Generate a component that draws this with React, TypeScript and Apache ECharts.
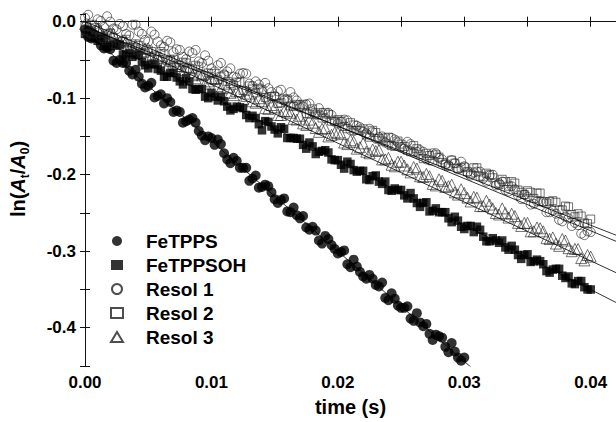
import React, { useEffect, useRef } from "react";
import * as echarts from "echarts";

const timesS = [0,0.0005,0.001,0.0015,0.002,0.0025,0.003,0.0035,0.004,0.0045,0.005,0.0055,0.006,0.0065,0.007,0.0075,0.008,0.0085,0.009,0.0095,0.01,0.0105,0.011,0.0115,0.012,0.0125,0.013,0.0135,0.014,0.0145,0.015,0.0155,0.016,0.0165,0.017,0.0175,0.018,0.0185,0.019,0.0195,0.02,0.0205,0.021,0.0215,0.022,0.0225,0.023,0.0235,0.024,0.0245,0.025,0.0255,0.026,0.0265,0.027,0.0275,0.028,0.0285,0.029,0.0295,0.03,0.0305,0.031,0.0315,0.032,0.0325,0.033,0.0335,0.034,0.0345,0.035,0.0355,0.036,0.0365,0.037,0.0375,0.038,0.0385,0.039,0.0395,0.04];
const timesMidS = [0.00025,0.00075,0.00125,0.00175,0.00225,0.00275,0.00325,0.00375,0.00425,0.00475,0.00525,0.00575,0.00625,0.00675,0.00725,0.00775,0.00825,0.00875,0.00925,0.00975,0.01025,0.01075,0.01125,0.01175,0.01225,0.01275,0.01325,0.01375,0.01425,0.01475,0.01525,0.01575,0.01625,0.01675,0.01725,0.01775,0.01825,0.01875,0.01925,0.01975,0.02025,0.02075,0.02125,0.02175,0.02225,0.02275,0.02325,0.02375,0.02425,0.02475,0.02525,0.02575,0.02625,0.02675,0.02725,0.02775,0.02825,0.02875,0.02925,0.02975,0.03025,0.03075,0.03125,0.03175,0.03225,0.03275,0.03325,0.03375,0.03425,0.03475,0.03525,0.03575,0.03625,0.03675,0.03725,0.03775,0.03825,0.03875,0.03925,0.03975];

const feTPPS = [-0.010,-0.022,-0.022,-0.035,-0.036,-0.054,-0.054,-0.064,-0.063,-0.081,-0.084,-0.099,-0.095,-0.100,-0.118,-0.118,-0.130,-0.126,-0.143,-0.155,-0.152,-0.154,-0.172,-0.185,-0.182,-0.191,-0.208,-0.201,-0.216,-0.215,-0.232,-0.233,-0.248,-0.243,-0.257,-0.269,-0.268,-0.286,-0.280,-0.292,-0.303,-0.299,-0.321,-0.320,-0.333,-0.331,-0.344,-0.341,-0.364,-0.362,-0.374,-0.372,-0.391,-0.393,-0.395,-0.416,-0.411,-0.425,-0.420,-0.439,-0.439];
const feTPPSMid = [-0.020,-0.017,-0.031,-0.034,-0.051,-0.050,-0.054,-0.069,-0.072,-0.086,-0.080,-0.097,-0.107,-0.105,-0.116,-0.132,-0.128,-0.132,-0.149,-0.150,-0.161,-0.160,-0.180,-0.178,-0.191,-0.191,-0.205,-0.217,-0.213,-0.223,-0.237,-0.231,-0.249,-0.253,-0.254,-0.272,-0.273,-0.290,-0.284,-0.297,-0.301,-0.317,-0.311,-0.327,-0.336,-0.336,-0.346,-0.361,-0.355,-0.371,-0.374,-0.388,-0.381,-0.398,-0.408,-0.409,-0.413,-0.432,-0.431,-0.443];

const feTPPSOH = [-0.016,-0.015,-0.025,-0.021,-0.031,-0.031,-0.043,-0.041,-0.043,-0.053,-0.061,-0.056,-0.064,-0.072,-0.067,-0.078,-0.074,-0.088,-0.088,-0.098,-0.093,-0.103,-0.104,-0.116,-0.111,-0.113,-0.126,-0.126,-0.142,-0.131,-0.141,-0.138,-0.152,-0.152,-0.153,-0.166,-0.163,-0.170,-0.168,-0.180,-0.181,-0.192,-0.186,-0.196,-0.195,-0.207,-0.201,-0.212,-0.220,-0.218,-0.220,-0.231,-0.231,-0.242,-0.236,-0.247,-0.249,-0.249,-0.262,-0.260,-0.271,-0.267,-0.268,-0.281,-0.287,-0.286,-0.286,-0.298,-0.298,-0.310,-0.304,-0.313,-0.313,-0.326,-0.324,-0.323,-0.335,-0.342,-0.339,-0.347,-0.350];
const feTPPSOHMid = [-0.011,-0.021,-0.023,-0.033,-0.029,-0.030,-0.043,-0.046,-0.044,-0.057,-0.055,-0.062,-0.072,-0.067,-0.073,-0.082,-0.078,-0.089,-0.088,-0.100,-0.098,-0.098,-0.111,-0.114,-0.112,-0.122,-0.123,-0.134,-0.130,-0.137,-0.146,-0.140,-0.152,-0.153,-0.161,-0.158,-0.173,-0.169,-0.171,-0.181,-0.187,-0.183,-0.194,-0.195,-0.206,-0.202,-0.209,-0.209,-0.221,-0.220,-0.227,-0.224,-0.237,-0.237,-0.248,-0.244,-0.249,-0.257,-0.255,-0.268,-0.267,-0.275,-0.272,-0.287,-0.283,-0.289,-0.295,-0.293,-0.305,-0.305,-0.314,-0.311,-0.317,-0.328,-0.323,-0.332,-0.333,-0.343,-0.339,-0.350];

const resol1 = [0.005,-0.004,0.003,-0.007,0.000,-0.010,-0.006,-0.018,-0.004,-0.016,-0.026,-0.017,-0.031,-0.025,-0.040,-0.037,-0.049,-0.041,-0.052,-0.044,-0.061,-0.057,-0.069,-0.061,-0.073,-0.067,-0.081,-0.078,-0.091,-0.087,-0.097,-0.089,-0.103,-0.099,-0.112,-0.108,-0.117,-0.113,-0.126,-0.122,-0.133,-0.128,-0.142,-0.136,-0.144,-0.140,-0.153,-0.150,-0.160,-0.154,-0.164,-0.157,-0.171,-0.168,-0.180,-0.172,-0.178,-0.187,-0.181,-0.193,-0.189,-0.201,-0.196,-0.205,-0.201,-0.214,-0.209,-0.222,-0.219,-0.232,-0.229,-0.238,-0.235,-0.249,-0.247,-0.259,-0.255,-0.267,-0.266,-0.279,-0.275];
const resol1Mid = [0.009,-0.004,0.001,0.007,-0.009,-0.003,-0.016,-0.004,-0.013,-0.024,-0.013,-0.026,-0.033,-0.027,-0.036,-0.046,-0.039,-0.037,-0.054,-0.051,-0.065,-0.054,-0.065,-0.072,-0.068,-0.068,-0.084,-0.082,-0.080,-0.092,-0.091,-0.103,-0.092,-0.103,-0.111,-0.107,-0.121,-0.119,-0.119,-0.131,-0.131,-0.129,-0.143,-0.138,-0.146,-0.144,-0.151,-0.158,-0.152,-0.158,-0.166,-0.160,-0.170,-0.170,-0.181,-0.172,-0.180,-0.188,-0.185,-0.183,-0.197,-0.197,-0.196,-0.209,-0.200,-0.211,-0.220,-0.215,-0.227,-0.226,-0.239,-0.235,-0.236,-0.249,-0.251,-0.261,-0.257,-0.263,-0.277,-0.274];

const resol2 = [-0.006,-0.015,-0.011,-0.019,-0.015,-0.030,-0.026,-0.033,-0.029,-0.041,-0.037,-0.045,-0.039,-0.051,-0.049,-0.060,-0.054,-0.062,-0.059,-0.071,-0.068,-0.076,-0.070,-0.081,-0.079,-0.090,-0.084,-0.093,-0.089,-0.101,-0.098,-0.106,-0.101,-0.111,-0.109,-0.120,-0.114,-0.122,-0.119,-0.130,-0.128,-0.137,-0.132,-0.142,-0.140,-0.151,-0.145,-0.156,-0.151,-0.163,-0.160,-0.168,-0.162,-0.174,-0.172,-0.182,-0.177,-0.186,-0.181,-0.192,-0.190,-0.199,-0.191,-0.203,-0.200,-0.211,-0.206,-0.215,-0.211,-0.223,-0.221,-0.231,-0.224,-0.237,-0.234,-0.246,-0.241,-0.252,-0.251,-0.263,-0.258];
const resol2Mid = [-0.012,-0.008,-0.020,-0.016,-0.021,-0.031,-0.023,-0.034,-0.031,-0.041,-0.039,-0.050,-0.042,-0.050,-0.057,-0.053,-0.061,-0.057,-0.070,-0.067,-0.077,-0.072,-0.078,-0.083,-0.079,-0.091,-0.088,-0.087,-0.099,-0.098,-0.107,-0.101,-0.110,-0.108,-0.108,-0.121,-0.119,-0.126,-0.121,-0.130,-0.130,-0.140,-0.135,-0.142,-0.148,-0.142,-0.153,-0.152,-0.162,-0.156,-0.163,-0.170,-0.166,-0.179,-0.175,-0.174,-0.184,-0.189,-0.185,-0.191,-0.196,-0.191,-0.202,-0.198,-0.204,-0.213,-0.209,-0.209,-0.220,-0.226,-0.223,-0.224,-0.235,-0.235,-0.236,-0.246,-0.242,-0.255,-0.254,-0.264];

const resol3 = [-0.003,-0.012,-0.009,-0.020,-0.015,-0.028,-0.025,-0.036,-0.031,-0.040,-0.035,-0.049,-0.047,-0.058,-0.052,-0.063,-0.059,-0.070,-0.068,-0.081,-0.074,-0.084,-0.081,-0.093,-0.091,-0.101,-0.094,-0.106,-0.104,-0.114,-0.112,-0.122,-0.117,-0.127,-0.123,-0.135,-0.132,-0.144,-0.139,-0.148,-0.145,-0.158,-0.155,-0.166,-0.159,-0.172,-0.169,-0.180,-0.178,-0.189,-0.183,-0.193,-0.190,-0.202,-0.199,-0.212,-0.206,-0.216,-0.213,-0.226,-0.224,-0.235,-0.230,-0.241,-0.239,-0.250,-0.244,-0.256,-0.254,-0.267,-0.263,-0.274,-0.270,-0.283,-0.282,-0.293,-0.286,-0.300,-0.297,-0.312,-0.307];
const resol3Mid = [-0.004,-0.014,-0.013,-0.023,-0.016,-0.026,-0.026,-0.036,-0.035,-0.035,-0.046,-0.045,-0.057,-0.051,-0.058,-0.064,-0.061,-0.074,-0.070,-0.078,-0.074,-0.087,-0.086,-0.096,-0.091,-0.097,-0.104,-0.100,-0.113,-0.109,-0.122,-0.117,-0.119,-0.128,-0.133,-0.128,-0.139,-0.140,-0.150,-0.145,-0.147,-0.160,-0.157,-0.164,-0.170,-0.167,-0.168,-0.180,-0.187,-0.183,-0.188,-0.197,-0.192,-0.203,-0.202,-0.214,-0.208,-0.215,-0.223,-0.219,-0.230,-0.229,-0.241,-0.234,-0.244,-0.252,-0.250,-0.251,-0.263,-0.263,-0.274,-0.269,-0.274,-0.284,-0.290,-0.284,-0.296,-0.297,-0.309,-0.305];

// linear fit endpoints [t, ln(At/A0)]
const fitFeTPPS = [[0, -0.012], [0.031, -0.4584]];
const fitFeTPPSOH = [[0, -0.013], [0.042, -0.367]];
const fitResol1 = [[0, 0.0], [0.042, -0.287]];
const fitResol2 = [[0, -0.007], [0.042, -0.279]];
const fitResol3 = [[0, -0.005], [0.042, -0.328]];

const seriesNames = ["FeTPPS", "FeTPPSOH", "Resol 1", "Resol 2", "Resol 3"];
const xTickLabels = ["0.00", "0.01", "0.02", "0.03", "0.04"];
const yTickLabels = ["0.0", "-0.1", "-0.2", "-0.3", "-0.4"];

const FONT = "Liberation Sans, Arial, sans-serif";

function pts(ys: number[], ysMid: number[]) {
  const out: number[][] = [];
  ys.forEach((y, i) => {
    out.push([timesS[i], y]);
    if (i < ysMid.length) out.push([timesMidS[i], ysMid[i]]);
  });
  return out;
}

function isMult(v: number, step: number) {
  const r = v / step;
  return Math.abs(r - Math.round(r)) < 1e-6;
}

export default function App() {
  const ref = useRef<HTMLDivElement>(null);
  useEffect(() => {
    if (!ref.current) return;
    const chart = echarts.init(ref.current, null, { renderer: "svg" });
    const labelStyle = { fontFamily: FONT, fontSize: 17, fontWeight: "bold", color: "#000" };
    const axisLine = { show: true, lineStyle: { color: "#111", width: 1 } };
    const hollow = { color: "rgba(255,255,255,0)", borderColor: "#222", borderWidth: 0.8 };
    const filled = { color: "#000" };
    const scatterBase = { type: "scatter", xAxisIndex: 0, yAxisIndex: 0, z: 2 };
    const fitLine = (data: number[][]) => ({
      type: "line",
      data,
      symbol: "none",
      silent: true,
      z: 5,
      clip: true,
      lineStyle: { color: "#000", width: 0.8 },
    });
    const option: any = {
      animation: false,
      backgroundColor: "#fff",
      textStyle: { fontFamily: FONT },
      grid: { left: 82, top: 14, right: -2, bottom: 52 },
      legend: {
        orient: "vertical",
        left: 105,
        top: 226,
        itemWidth: 12,
        itemHeight: 10,
        itemGap: 4,
        selectedMode: false,
        data: seriesNames,
        textStyle: { fontFamily: FONT, fontSize: 19, fontWeight: "bold", color: "#000", lineHeight: 20, padding: [0, 0, 0, 18] },
      },
      xAxis: [
        {
          type: "value",
          position: "bottom",
          min: 0,
          max: 0.042,
          interval: 0.005,
          axisLine,
          axisTick: { inside: true, length: 5, lineStyle: { color: "#111" } },
          axisLabel: {
            ...labelStyle,
            margin: 8,
            showMaxLabel: false,
            formatter: (v: number) => (isMult(v, 0.01) && v < 0.0405 ? xTickLabels[Math.round(v / 0.01)] : ""),
          },
          splitLine: { show: false },
          name: "time (s)",
          nameLocation: "middle",
          nameGap: 31,
          nameTextStyle: { fontFamily: FONT, fontSize: 20, fontWeight: "bold", color: "#000" },
        },
        {
          type: "value",
          position: "top",
          min: 0,
          max: 0.042,
          interval: 0.005,
          axisLine,
          axisTick: { inside: true, length: 5, lineStyle: { color: "#111" } },
          axisLabel: { show: false },
          splitLine: { show: false },
        },
      ],
      yAxis: [
        {
          type: "value",
          position: "left",
          min: -0.45,
          max: 0.01,
          interval: 0.05,
          axisLine,
          axisTick: { inside: true, length: 5, lineStyle: { color: "#111" } },
          axisLabel: {
            ...labelStyle,
            margin: 9,
            showMaxLabel: false,
            formatter: (v: number) => (isMult(v, 0.1) && v < 0.005 ? yTickLabels[Math.round(-v / 0.1)] : ""),
          },
          splitLine: { show: false },
          name: "{n|ln(}{i|A}{s|t}{n|/}{i|A}{s|0}{n|)}",
          nameLocation: "middle",
          nameRotate: 90,
          nameGap: 54,
          nameTextStyle: {
            padding: [0, 0, 0, 22],
            rich: {
              n: { fontFamily: FONT, fontSize: 20, fontWeight: "bold", color: "#000", lineHeight: 26 },
              i: { fontFamily: FONT, fontSize: 20, fontWeight: "bold", fontStyle: "italic", color: "#000", lineHeight: 26 },
              s: { fontFamily: FONT, fontSize: 12, fontWeight: "bold", color: "#000", lineHeight: 12, verticalAlign: "bottom" },
            },
          },
        },
        {
          type: "value",
          position: "right",
          min: -0.45,
          max: 0.01,
          interval: 0.05,
          axisLine,
          axisTick: { inside: true, length: 5, lineStyle: { color: "#111" } },
          axisLabel: { show: false },
          splitLine: { show: false },
        },
      ],
      series: [
        { ...scatterBase, name: seriesNames[0], data: pts(feTPPS, feTPPSMid), symbol: "circle", symbolSize: 10, itemStyle: filled },
        { ...scatterBase, name: seriesNames[1], data: pts(feTPPSOH, feTPPSOHMid), symbol: "rect", symbolSize: 8.5, itemStyle: filled },
        { ...scatterBase, name: seriesNames[2], data: pts(resol1, resol1Mid), symbol: "circle", symbolSize: 9, itemStyle: hollow },
        { ...scatterBase, name: seriesNames[3], data: pts(resol2, resol2Mid), symbol: "rect", symbolSize: 8, itemStyle: hollow },
        { ...scatterBase, name: seriesNames[4], data: pts(resol3, resol3Mid), symbol: "triangle", symbolSize: 11, itemStyle: hollow },
        fitLine(fitFeTPPS),
        fitLine(fitFeTPPSOH),
        fitLine(fitResol1),
        fitLine(fitResol2),
        fitLine(fitResol3),
      ],
    };
    chart.setOption(option);
    return () => chart.dispose();
  }, []);
  return <div ref={ref} style={{ position: "absolute", left: 0, top: 0, width: 616, height: 422 }} />;
}
